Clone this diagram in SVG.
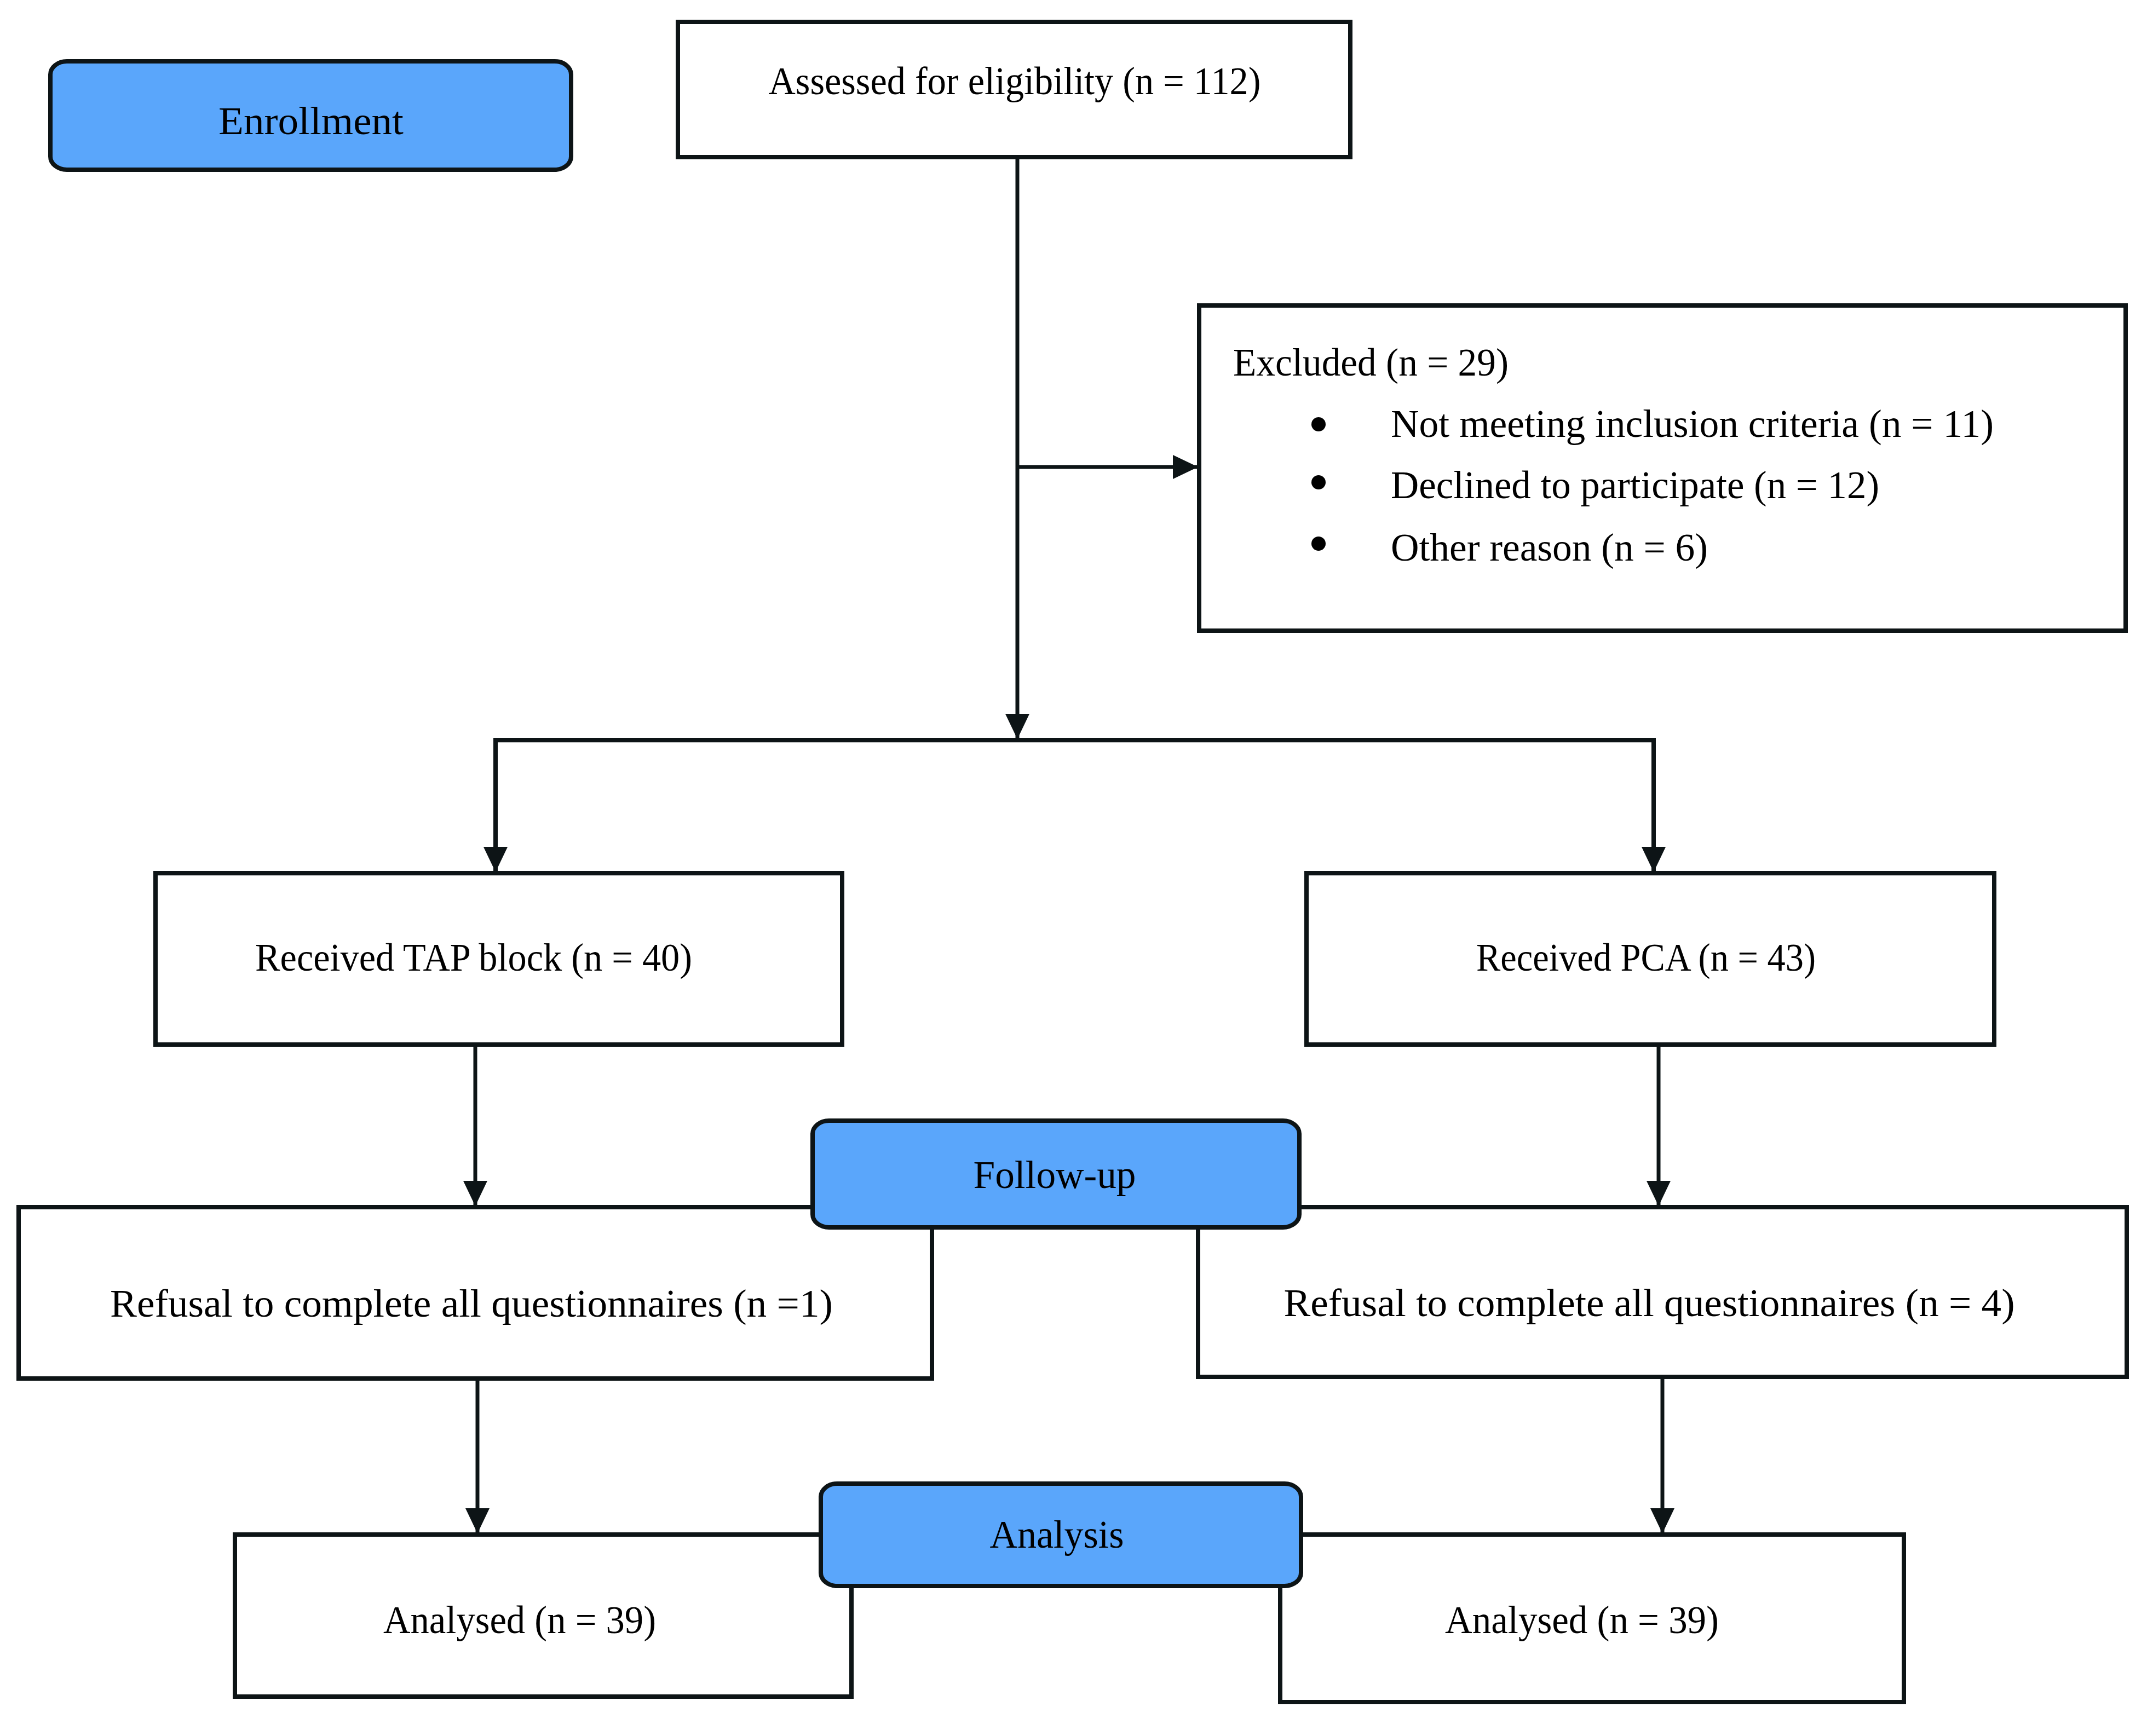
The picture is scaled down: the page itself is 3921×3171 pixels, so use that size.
<svg xmlns="http://www.w3.org/2000/svg" width="3921" height="3171" viewBox="0 0 3921 3171">
<style>
.box{fill:#ffffff;stroke:#0d1416;stroke-width:8}
.phase{fill:#5aa6fb;stroke:#0d1416;stroke-width:8}
.conn{fill:none;stroke:#0d1416;stroke-width:7}
.t{font-family:"Liberation Serif","Times New Roman",serif;font-size:72px;fill:#000000}
.c{text-anchor:middle}
</style>
<defs>
<marker id="arr" markerUnits="userSpaceOnUse" viewBox="0 0 46 44" markerWidth="46" markerHeight="44" refX="46" refY="22" orient="auto">
<path d="M0,0 L46,22 L0,44 z" fill="#0d1416"/>
</marker>
</defs>
<rect width="3921" height="3171" fill="#ffffff"/>
<g id="connectors">
<path class="conn" d="M1858,287 V1350" marker-end="url(#arr)"/>
<path class="conn" d="M1858,853 H2188" marker-end="url(#arr)"/>
<path class="conn" style="stroke-width:8" d="M1858,1352 H905 V1593" marker-end="url(#arr)"/>
<path class="conn" style="stroke-width:8" d="M1858,1352 H3020 V1593" marker-end="url(#arr)"/>
<path class="conn" d="M868,1908 V2203" marker-end="url(#arr)"/>
<path class="conn" d="M3029,1908 V2203" marker-end="url(#arr)"/>
<path class="conn" d="M872,2518 V2801" marker-end="url(#arr)"/>
<path class="conn" d="M3036,2515 V2801" marker-end="url(#arr)"/>
</g>
<g id="assessed">
<rect class="box" x="1238" y="40" width="1228" height="247"/>
<text class="t c" x="1853" y="172" textLength="899" lengthAdjust="spacingAndGlyphs">Assessed for eligibility (n = 112)</text>
</g>
<g id="excluded">
<rect class="box" x="2190" y="558" width="1692" height="594"/>
<text class="t" x="2252" y="686" textLength="503" lengthAdjust="spacingAndGlyphs">Excluded (n = 29)</text>
<circle cx="2408" cy="775" r="13" fill="#000"/>
<circle cx="2408" cy="881" r="13" fill="#000"/>
<circle cx="2408" cy="993" r="13" fill="#000"/>
<text class="t" x="2540" y="798" textLength="1101" lengthAdjust="spacingAndGlyphs">Not meeting inclusion criteria (n = 11)</text>
<text class="t" x="2540" y="910" textLength="892" lengthAdjust="spacingAndGlyphs">Declined to participate (n = 12)</text>
<text class="t" x="2540" y="1024" textLength="579" lengthAdjust="spacingAndGlyphs">Other reason (n = 6)</text>
</g>
<g id="tap">
<rect class="box" x="284" y="1595" width="1254" height="313"/>
<text class="t c" x="865" y="1773" textLength="798" lengthAdjust="spacingAndGlyphs">Received TAP block (n = 40)</text>
</g>
<g id="pca">
<rect class="box" x="2386" y="1595" width="1256" height="313"/>
<text class="t c" x="3006" y="1773" textLength="620" lengthAdjust="spacingAndGlyphs">Received PCA (n = 43)</text>
</g>
<g id="refusal-tap">
<rect class="box" x="34" y="2205" width="1668" height="313"/>
<text class="t c" x="861" y="2405" textLength="1320" lengthAdjust="spacingAndGlyphs">Refusal to complete all questionnaires (n =1)</text>
</g>
<g id="refusal-pca">
<rect class="box" x="2188" y="2205" width="1696" height="310"/>
<text class="t c" x="3012" y="2404" textLength="1335" lengthAdjust="spacingAndGlyphs">Refusal to complete all questionnaires (n = 4)</text>
</g>
<g id="analysed-tap">
<rect class="box" x="429" y="2803" width="1126" height="296"/>
<text class="t c" x="949" y="2983" textLength="498" lengthAdjust="spacingAndGlyphs">Analysed (n = 39)</text>
</g>
<g id="analysed-pca">
<rect class="box" x="2338" y="2803" width="1139" height="306"/>
<text class="t c" x="2889" y="2983" textLength="500" lengthAdjust="spacingAndGlyphs">Analysed (n = 39)</text>
</g>
<g id="enrollment">
<rect class="phase" x="92" y="112" width="951" height="198" rx="30" ry="24"/>
<text class="t c" x="568" y="245" textLength="338" lengthAdjust="spacingAndGlyphs">Enrollment</text>
</g>
<g id="follow-up">
<rect class="phase" x="1484" y="2047" width="889" height="195" rx="30" ry="24"/>
<text class="t c" x="1926" y="2170" textLength="297" lengthAdjust="spacingAndGlyphs">Follow-up</text>
</g>
<g id="analysis">
<rect class="phase" x="1499" y="2710" width="877" height="187" rx="30" ry="24"/>
<text class="t c" x="1930" y="2827" textLength="245" lengthAdjust="spacingAndGlyphs">Analysis</text>
</g>
</svg>
